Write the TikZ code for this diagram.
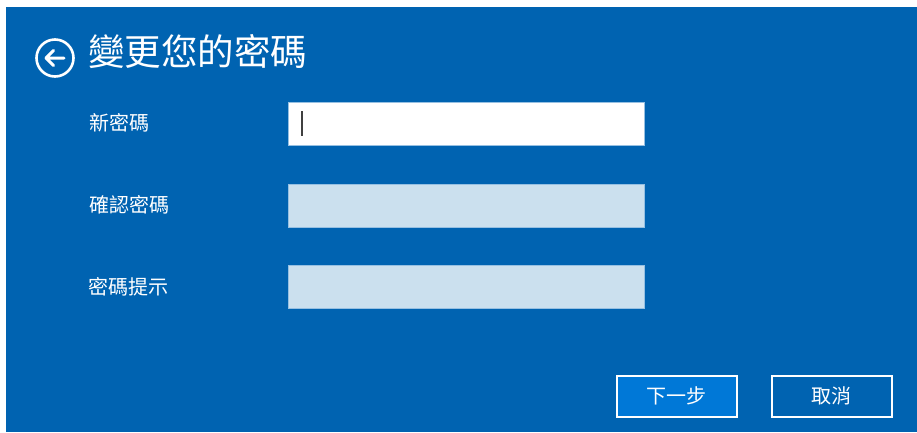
\documentclass[tikz,border=0pt]{standalone}
\usepackage{fontspec}
\usepackage{xcolor}
\newfontfamily\cjk{Noto Sans CJK TC}
\definecolor{dialog blue}{RGB}{0,99,177}
\definecolor{button blue}{RGB}{0,120,215}
\definecolor{field off}{RGB}{203,224,238}
\definecolor{field edge}{RGB}{150,192,226}
\tikzstyle{caption} = [text=white, font=\cjk\fontsize{20}{23}\selectfont, anchor=west, inner sep=0pt]
\tikzset{field/.style={draw=field edge, line width=0.8pt, minimum width=356pt, minimum height=43pt, inner sep=0pt},
    button/.style={draw=white, line width=2pt, minimum width=120pt, minimum height=41pt, text=white, font=\cjk\fontsize{20}{23}\selectfont}}

\begin{document}
\begin{tikzpicture}[x=1pt,y=-1pt]
    % Definition of the page
    \def\page{(0,0) rectangle (917,432)}
    \def\dialog{(6,7) rectangle (917,432)}
    \useasboundingbox \page;
    \fill[white] \page;
    \fill[dialog blue] \dialog;
    % back button and title
    \node[circle, draw=white, line width=2.6pt, minimum size=37pt, inner sep=0pt] (back) at (55,58) {};
    \draw[white, line width=3pt, line cap=round, line join=round]
        ([xshift=9pt]back.center) -- ([xshift=-9pt]back.center)
        ([xshift=-1.5pt,yshift=7.5pt]back.center) -- ([xshift=-9pt]back.center) -- ([xshift=-1.5pt,yshift=-7.5pt]back.center);
    \node[text=white, font=\cjk\fontsize{36.5}{40}\selectfont, anchor=west, inner sep=0pt] (title) at (88,52) {變更您的密碼};
    % fields
    \node[caption] (newpw) at (89,123) {新密碼};
    \node[caption] (confirm) at (89,205) {確認密碼};
    \node[caption] (hint) at (88,287) {密碼提示};
    \node[field, fill=white] (newbox) at (466.5,123.5) {};
    \node[field, fill=field off] (confirmbox) at (466.5,205.5) {};
    \node[field, fill=field off] (hintbox) at (466.5,287) {};
    \draw[black!75, line width=1.3pt] ([xshift=14pt,yshift=-9.5pt]newbox.north west) -- ([xshift=14pt,yshift=9pt]newbox.south west);
    % buttons
    \node[button, fill=button blue] (next) at (676.5,396) {下一步};
    \node[button, fill=dialog blue] (cancel) at (831.5,396) {取消};
\end{tikzpicture}
\end{document}
